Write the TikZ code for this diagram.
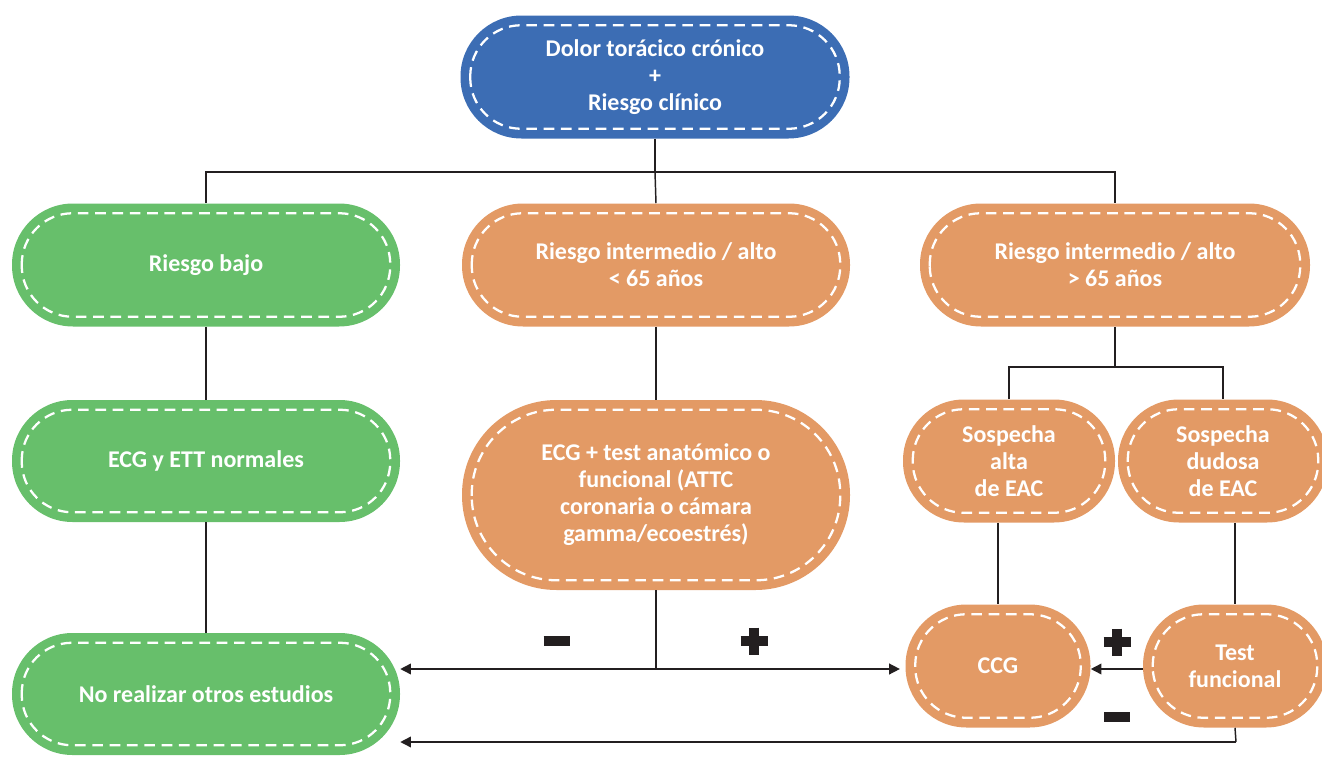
\documentclass[tikz,border=0pt]{standalone}
\usepackage{fontspec}
\setmainfont{Carlito}
\usetikzlibrary{arrows.meta}
\definecolor{cblue}{HTML}{3C6DB4}
\definecolor{cgreen}{HTML}{67BF6B}
\definecolor{corange}{HTML}{E39A65}
\definecolor{cline}{HTML}{231F20}
\tikzset{
  pillbox/.style={inner sep=0pt, align=center, text=white,
    font=\fontsize{18}{20.25}\selectfont\bfseries},
  innerdash/.style={draw=white, line width=1.7pt, dash pattern=on 8pt off 5pt},
  conn/.style={draw=cline, line width=1.1pt},
  arr/.style={conn, -{Triangle[length=8pt,width=8pt]}},
  sign/.style={draw=cline, line width=7pt, line cap=butt}
}
% name, x, y, w, h, r, colour, text
\newcommand\pill[8]{%
  \node[pillbox, fill=#7, minimum width=#4*0.75pt, minimum height=#5*0.75pt,
        rounded corners=#6*0.75pt] (#1) at (#2,#3) {#8};
  \draw[innerdash, rounded corners=(#6-10)*0.75pt]
    ([shift={(10,-10)}]#1.south west) rectangle ([shift={(-10,10)}]#1.north east);
}
\begin{document}
\begin{tikzpicture}[x=0.75pt, y=-0.75pt]
\useasboundingbox (0,0) rectangle (1322,757);
\pill{top}{655}{77}{389}{123}{61}{cblue}{Dolor torácico crónico\\+\\Riesgo clínico}
\pill{bajo}{206}{265}{388}{123}{61}{cgreen}{Riesgo bajo}
\pill{mid}{656}{265}{388}{123}{61}{corange}{Riesgo intermedio / alto\\< 65 años}
\pill{mayor}{1115}{265}{390}{123}{61}{corange}{Riesgo intermedio / alto\\> 65 años}
\pill{ecgn}{206}{461}{388}{122}{60.5}{cgreen}{ECG y ETT normales}
\pill{test}{656}{495}{388}{190}{94.5}{corange}{ECG + test anatómico o\\funcional (ATTC\\coronaria o cámara\\gamma/ecoestrés)}
\pill{salta}{1009}{461}{212}{123}{61}{corange}{Sospecha\\alta\\de EAC}
\pill{sduda}{1223}{461}{210}{123}{61}{corange}{Sospecha\\dudosa\\de EAC}
\pill{ccg}{998}{666}{185}{123}{61}{corange}{CCG}
\pill{testf}{1235}{666}{184}{123}{61}{corange}{Test\\funcional}
\pill{noreal}{206}{694}{388}{122}{60.5}{cgreen}{No realizar otros estudios}

\coordinate (j1) at (655,172);
\coordinate (j2) at (656,669);
\coordinate (j3) at (1236,742);
\coordinate (j4) at (1115,367);

\draw[conn] (top.south) -- (j1);
\draw[conn] (bajo.north) |- (j1) -| (mayor.north);
\draw[conn] (j1) -- (mid.north);
\draw[conn] (bajo.south) -- (ecgn.north);
\draw[conn] (ecgn.south) -- (noreal.north);
\draw[conn] (mid.south) -- (test.north);
\draw[conn] (test.south) -- (j2);
\draw[arr] (j2) -- (noreal.east |- j2);
\draw[arr] (j2) -- ([xshift=-4pt]ccg.west |- j2);
\draw[conn] (mayor.south) -- (j4);
\draw[conn] (salta.north) |- (j4) -| (sduda.north);
\draw[conn] (ccg.north |- salta.south) -- (ccg.north);
\draw[conn] (testf.north |- sduda.south) -- (testf.north);
\draw[arr] (testf.west |- j2) -- (ccg.east |- j2);
\draw[conn] (testf.south) -- (j3);
\draw[arr] (j3) -- (noreal.east |- j3);

% signs
\draw[sign] (543.5,641) -- (569.5,641);
\draw[sign] (740.5,641) -- (767.5,641) (754,627.5) -- (754,654.5);
\draw[sign] (1103.5,642) -- (1130.5,642) (1117,628.5) -- (1117,655.5);
\draw[sign] (1104,717) -- (1130,717);
\end{tikzpicture}
\end{document}
